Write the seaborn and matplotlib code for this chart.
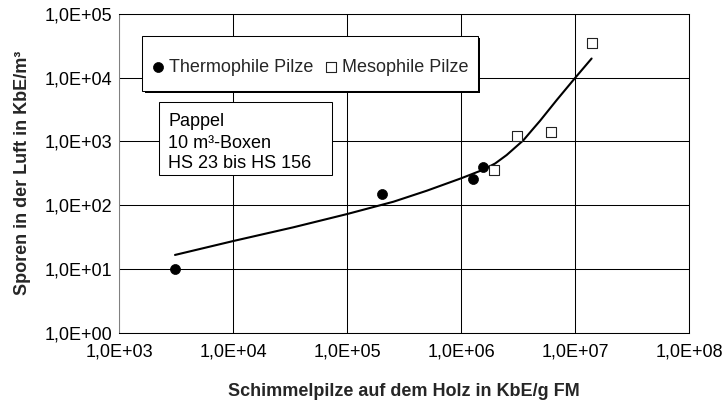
import numpy as np
import pandas as pd
import matplotlib
matplotlib.use("Agg")
import matplotlib.pyplot as plt
import seaborn as sns
from matplotlib.patches import Rectangle
from matplotlib.ticker import FixedLocator, FixedFormatter, NullLocator

# ---- data ----
thermo_x = [3.1e3, 2.0e5, 1.27e6, 1.56e6]
thermo_y = [10, 150, 255, 395]
meso_x = [1.94e6, 3.1e6, 6.1e6, 1.39e7]
meso_y = [355, 1220, 1420, 34700]
trend_x = [3.08e3, 1e4, 3.36e4, 1e5, 2.54e5, 4.97e5, 1e6, 1.56e6, 1.98e6,
           2.5e6, 3.5e6, 4.14e6, 4.9e6, 6.9e6, 1e7, 1.39e7]
trend_y = [16.5, 27.3, 44.8, 72.5, 113, 168, 264, 360, 450,
           611, 1040, 1480, 2100, 4500, 1.0e4, 2.0e4]
x_ticks = [1e3, 1e4, 1e5, 1e6, 1e7, 1e8]
x_ticklabels = ["1,0E+03", "1,0E+04", "1,0E+05", "1,0E+06", "1,0E+07", "1,0E+08"]
y_ticks = [1, 1e1, 1e2, 1e3, 1e4, 1e5]
y_ticklabels = ["1,0E+00", "1,0E+01", "1,0E+02", "1,0E+03", "1,0E+04", "1,0E+05"]
series_labels = ["Thermophile Pilze", "Mesophile Pilze"]
box_lines = ["Pappel", "10 m³-Boxen", "HS 23 bis HS 156"]
x_label = "Schimmelpilze auf dem Holz in KbE/g FM"
y_label = "Sporen in der Luft in KbE/m³"

sns.set_style("white")
plt.rcParams["font.family"] = ["Liberation Sans", "DejaVu Sans"]

W, H = 728, 401
fig = plt.figure(figsize=(W / 100, H / 100), dpi=100)
L, R, T, B = 119.3, 689.3, 14.0, 332.5
ax = fig.add_axes([L / W, 1 - B / H, (R - L) / W, (B - T) / H])
ax.set_xscale("log")
ax.set_yscale("log")

df_t = pd.DataFrame({"x": thermo_x, "y": thermo_y})
df_m = pd.DataFrame({"x": meso_x, "y": meso_y})
df_l = pd.DataFrame({"x": trend_x, "y": trend_y})

sns.lineplot(data=df_l, x="x", y="y", ax=ax, color="black", linewidth=1.5,
             estimator=None, legend=False, zorder=3)
sns.scatterplot(data=df_t, x="x", y="y", ax=ax, marker="o", s=52,
                color="black", edgecolor="black", linewidth=0.5,
                label=series_labels[0], zorder=4)
sns.scatterplot(data=df_m, x="x", y="y", ax=ax, marker="s", s=42,
                facecolor="white", edgecolor="#222222", linewidth=0.8,
                label=series_labels[1], zorder=4)

handles, labels = ax.get_legend_handles_labels()
if ax.get_legend() is not None:
    ax.get_legend().remove()

ax.set_xlim(x_ticks[0], x_ticks[-1])
ax.set_ylim(y_ticks[0], y_ticks[-1])
ax.xaxis.set_major_locator(FixedLocator(x_ticks))
ax.xaxis.set_major_formatter(FixedFormatter(x_ticklabels))
ax.yaxis.set_major_locator(FixedLocator(y_ticks))
ax.yaxis.set_major_formatter(FixedFormatter(y_ticklabels))
ax.xaxis.set_minor_locator(NullLocator())
ax.yaxis.set_minor_locator(NullLocator())

ax.grid(True, which="major", color="black", linewidth=0.75, zorder=0)
ax.set_axisbelow(True)
for name, sp in ax.spines.items():
    sp.set_visible(True)
    sp.set_linewidth(0.75)
    sp.set_color("black")
ax.spines["left"].set_color("#808080")

ax.tick_params(axis="both", which="major", direction="out", length=3.4,
               width=0.75, color="black", labelsize=13, labelcolor="black")
ax.tick_params(axis="y", pad=1.8)
ax.tick_params(axis="x", pad=4.5)

ax.set_xlabel(x_label, fontsize=13, fontweight="bold")
ax.set_ylabel(y_label, fontsize=13, fontweight="bold")
ax.xaxis.set_label_coords(0.5, -0.157)
ax.yaxis.set_label_coords(-0.155, 0.5)

# legend frame with black drop shadow
lx0, ly0, lx1, ly1 = 142.3, 36.0, 477.7, 91.0
sh = 2.3
fig.add_artist(Rectangle(((lx0 + sh) / W, 1 - (ly1 + sh) / H), (lx1 - lx0) / W,
                         (ly1 - ly0) / H, transform=fig.transFigure,
                         facecolor="black", edgecolor="black", linewidth=0,
                         zorder=5))
fig.add_artist(Rectangle((lx0 / W, 1 - ly1 / H), (lx1 - lx0) / W, (ly1 - ly0) / H,
                         transform=fig.transFigure, facecolor="white",
                         edgecolor="black", linewidth=0.75, zorder=5.1))

leg = fig.legend(handles, labels, loc="center left", ncol=2,
                 bbox_to_anchor=(152.9 / W, 1 - 67.0 / H),
                 bbox_transform=fig.transFigure, borderaxespad=0, borderpad=0,
                 fontsize=13, frameon=False,
                 handlelength=0.6, handletextpad=0.31,
                 columnspacing=0.68, scatterpoints=1)
leg.set_zorder(6)

# annotation box
bx0, by0, bx1, by1 = 159.3, 102.3, 331.7, 175.0
fig.add_artist(Rectangle((bx0 / W, 1 - by1 / H), (bx1 - bx0) / W, (by1 - by0) / H,
                         transform=fig.transFigure, facecolor="white",
                         edgecolor="black", linewidth=0.75, zorder=5))
for txt, base in zip(box_lines, [126.0, 148.0, 168.5]):
    fig.text(168.3 / W, 1 - base / H, txt, fontsize=13, ha="left",
             va="baseline", color="black", zorder=6)

fig.savefig("out.png", dpi=100)
